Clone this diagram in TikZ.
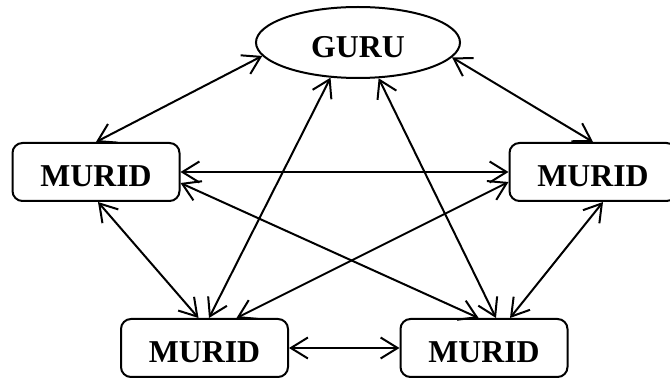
\documentclass[tikz,border=0pt]{standalone}
\usepackage{fontspec}
\setmainfont{Liberation Serif}
\usetikzlibrary{arrows.meta, shapes.geometric}

\begin{document}
\begin{tikzpicture}[x=0.5pt, y=-0.5pt,
    murid/.style={draw, rounded corners=5pt, line width=1pt, inner sep=0pt,
        minimum width=83.5pt, minimum height=29pt, text height=15pt,
        font=\fontsize{15.9}{18}\selectfont\bfseries},
    guru/.style={draw, ellipse, line width=1pt, inner sep=0pt,
        minimum width=102pt, minimum height=35.5pt, text height=15.5pt,
        font=\fontsize{15.9}{18}\selectfont\bfseries},
    link/.style={{Straight Barb[length=8.5pt,width=10.5pt]}-{Straight Barb[length=8.5pt,width=10.5pt]},
        line width=1pt}]
        \useasboundingbox (0,0) rectangle (670,379);

        % Guru on top
        \node[guru] (G) at (358,42.5) {GURU};

        % Murids
        \node[murid] (M1) at (96,172) {MURID};   % Left
        \node[murid] (M2) at (593,172) {MURID};  % Right
        \node[murid] (M3) at (204.5,348) {MURID};% Bottom-left
        \node[murid] (M4) at (484,348) {MURID};  % Bottom-right

        % Guru to murids
        \draw[link] (G.188) -- (M1.north);
        \draw[link] (G.351) -- (M2.north);
        \draw[link] (G.232) -- ([xshift=2.25pt]M3.north);
        \draw[link] (G.300) -- ([xshift=6pt]M4.north);

        % Murids to murids
        \draw[link] (M1.east) -- (M2.west);
        \draw[link] ([yshift=-5.5pt]M1.east) -- ([xshift=-2.7pt]M4.north);
        \draw[link] ([yshift=-5pt]M2.west) -- ([xshift=16pt]M3.north);
        \draw[link] ([xshift=1pt]M1.south) -- ([xshift=-3pt]M3.north);
        \draw[link] ([xshift=5pt]M2.south) -- ([xshift=13pt]M4.north);
        \draw[link] (M3.east) -- (M4.west);

\end{tikzpicture}
\end{document}
